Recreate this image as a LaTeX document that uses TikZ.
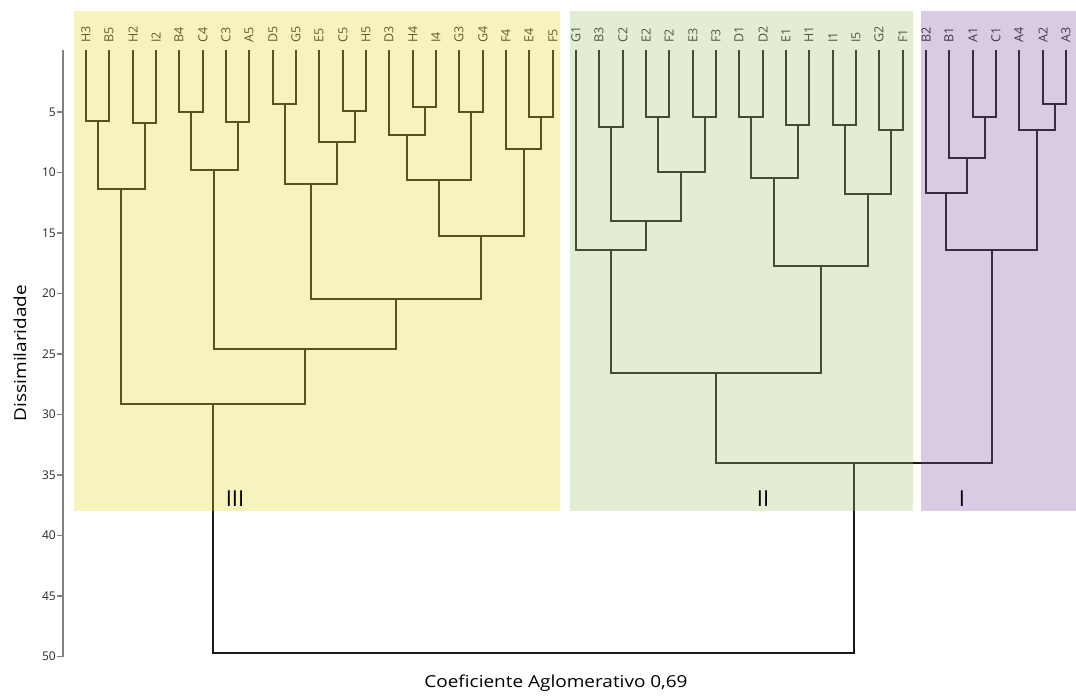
\documentclass[tikz,border=0pt]{standalone}
\usepackage{fontspec}
\setmainfont{Open Sans}
\usetikzlibrary{calc}
\definecolor{yelO}{RGB}{228,218,42}
\definecolor{grnO}{RGB}{162,198,112}
\definecolor{purO}{RGB}{135,85,168}
\definecolor{lineC}{RGB}{25,25,25}
\definecolor{axC}{RGB}{130,130,130}
\definecolor{txC}{RGB}{40,40,40}
\tikzset{
  dl/.style={draw=lineC, line width=2pt, line join=miter},
  leaf/.style={rotate=90, anchor=west, inner sep=0pt, font=\fontsize{12.5}{12.5}\selectfont, text=txC},
  band/.style={fill opacity=0.3, draw=none},
  tickl/.style={anchor=east, inner sep=0pt, font=\fontsize{12}{12}\selectfont, text=txC},
  grp/.style={inner sep=0pt, font=\fontsize{22}{22}\selectfont, text=black},
  ttl/.style={inner sep=0pt, font=\fontsize{16.5}{16.5}\selectfont, text=black},
}
\newcommand\dmerge[4]{%
  \coordinate (tmp#1) at ($(#2)!0.5!(#3)$);
  \coordinate (#1) at (tmp#1 |- 0,#4);
  \draw[dl] (#2) |- (#1) -| (#3);
}
\begin{document}
\begin{tikzpicture}[x=1pt,y=-1pt]
\useasboundingbox (0,0) rectangle (1076,696);
\fill[white] (0,0) rectangle (1076,696);
% leaves
\foreach \n [count=\i from 0] in {H3,B5,H2,I2,B4,C4,C3,A5,D5,G5,E5,C5,H5,D3,H4,I4,G3,G4,F4,E4,F5,G1,B3,C2,E2,F2,E3,F3,D1,D2,E1,H1,I1,I5,G2,F1,B2,B1,A1,C1,A4,A2,A3}{
  \pgfmathsetmacro\xx{round(86+23.33*\i)}
  \coordinate (t\n) at (\xx,50);
  \node[leaf] (l\n) at (\xx,43) {\n};
}
% cluster III
\dmerge{a1}{tH3}{tB5}{121}
\dmerge{a2}{tH2}{tI2}{123}
\dmerge{a3}{a1}{a2}{189}
\dmerge{b1}{tB4}{tC4}{112}
\dmerge{b2}{tC3}{tA5}{122}
\dmerge{b3}{b1}{b2}{170}
\dmerge{c1}{tD5}{tG5}{104}
\dmerge{c2}{tC5}{tH5}{111}
\dmerge{c3}{tE5}{c2}{142}
\dmerge{c4}{c1}{c3}{184}
\dmerge{d1}{tH4}{tI4}{107}
\dmerge{d2}{tD3}{d1}{135}
\dmerge{d3}{tG3}{tG4}{112}
\dmerge{d4}{d2}{d3}{180}
\dmerge{e1}{tE4}{tF5}{117}
\dmerge{e2}{tF4}{e1}{149}
\dmerge{d5}{d4}{e2}{236}
\dmerge{c5}{c4}{d5}{299}
\dmerge{b4}{b3}{c5}{349}
\dmerge{a4}{a3}{b4}{404}
% cluster II
\dmerge{f1}{tB3}{tC2}{127}
\dmerge{f2}{tE2}{tF2}{117}
\dmerge{f3}{tE3}{tF3}{117}
\dmerge{f4}{f2}{f3}{172}
\dmerge{f5}{f1}{f4}{221}
\dmerge{f6}{tG1}{f5}{250}
\dmerge{g1}{tD1}{tD2}{117}
\dmerge{g2}{tE1}{tH1}{125}
\dmerge{g3}{g1}{g2}{178}
\dmerge{g4}{tI1}{tI5}{125}
\dmerge{g5}{tG2}{tF1}{130}
\dmerge{g6}{g4}{g5}{194}
\dmerge{g7}{g3}{g6}{266}
\dmerge{h1}{f6}{g7}{373}
% cluster I
\dmerge{i1}{tA1}{tC1}{117}
\dmerge{i2}{tB1}{i1}{158}
\dmerge{i3}{tB2}{i2}{193}
\dmerge{j1}{tA2}{tA3}{104}
\dmerge{j2}{tA4}{j1}{130}
\dmerge{i4}{i3}{j2}{250}
% top merges
\dmerge{k1}{h1}{i4}{463}
\dmerge{root}{a4}{k1}{653}
% bands
\fill[band, yelO] (74,11) rectangle (560,511);
\fill[band, grnO] (570,11) rectangle (913,511);
\fill[band, purO] (921,11) rectangle (1076,511);
% group labels
\node[grp] (gIII) at (235,499) {III};
\node[grp] (gII) at (763,499) {II};
\node[grp] (gI) at (962,499) {I};
% axis
\draw[axC, line width=1.4pt] (63,50) -- (63,657);
\foreach \h in {5,10,...,50}{
  \draw[axC, line width=1.2pt] (57,{51.5+12.1*\h}) -- (63,{51.5+12.1*\h});
  \node[tickl] at (56,{51.5+12.1*\h}) {\h};
}
\node[ttl, rotate=90] (ytitle) at (20,353) {\scalebox{1.15}[1]{Dissimilaridade}};
\node[ttl] (caption) at (556,683) {\scalebox{1.15}[1]{Coeficiente Aglomerativo 0,69}};
\end{tikzpicture}
\end{document}
